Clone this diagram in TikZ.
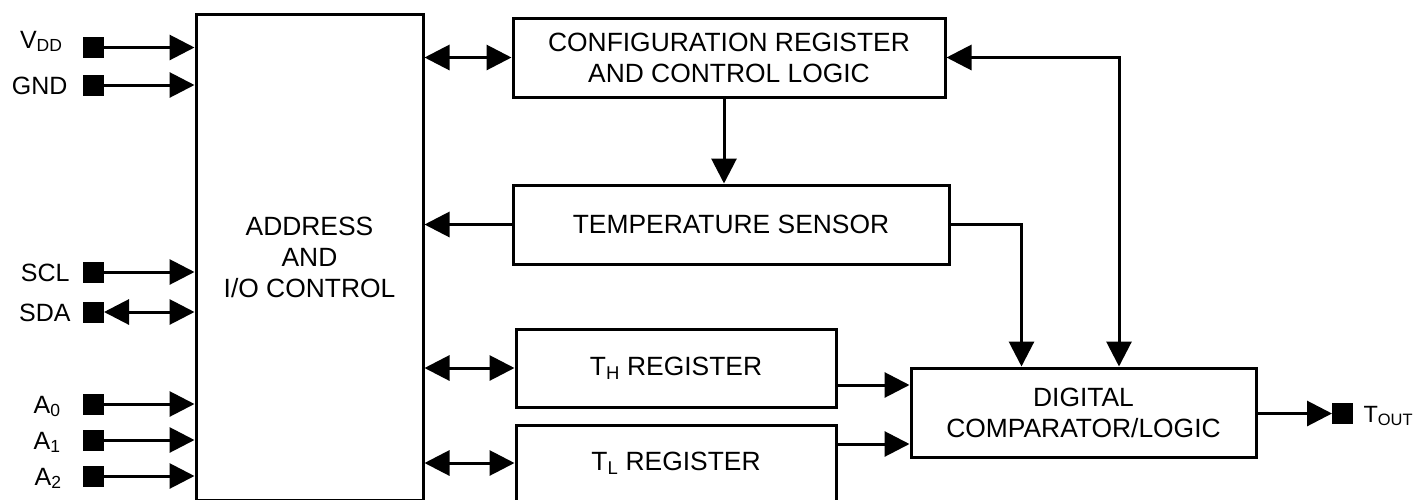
\documentclass[tikz,border=0pt]{standalone}
\usepackage{fontspec}
\setmainfont{Liberation Sans}
\usetikzlibrary{arrows.meta}
\begin{document}
\begin{tikzpicture}[x=1pt, y=-1pt, line width=3pt,
        font=\fontsize{26.4}{31}\selectfont,
        block/.style = {draw, align=center, inner sep=0pt},
        pin/.style = {fill, minimum size=21pt, inner sep=0pt, outer sep=0pt},
        pinlabel/.style = {font=\fontsize{25}{30}\selectfont, inner sep=0pt},
        arrow/.style = {-{Triangle[length=25pt,width=25pt]}},
        twoway/.style = {{Triangle[length=25pt,width=25pt]}-{Triangle[length=25pt,width=25pt]}}]
                \useasboundingbox (0,0) rectangle (1417,499);
                \clip (0,0) rectangle (1417,499);

                \node[block, minimum width=227pt, minimum height=486pt] 
                    (addr) at (309.5,257) {ADDRESS\\AND\\I/O CONTROL};
                \node[block, minimum width=432pt, minimum height=79pt] 
                    (cfg) at (729,57.5) {CONFIGURATION REGISTER\\AND CONTROL LOGIC};
                \node[block, minimum width=436pt, minimum height=79pt] 
                    (temp) at (731,224.5) {TEMPERATURE SENSOR};
                \node[block, minimum width=320pt, minimum height=78pt] 
                    (th) at (676,368) {T\textsubscript{H} REGISTER};
                \node[block, minimum width=320pt, minimum height=76pt] 
                    (tl) at (676,463) {T\textsubscript{L} REGISTER};
                \node[block, minimum width=345pt, minimum height=89pt] 
                    (dig) at (1083.5,412.5) {DIGITAL\\COMPARATOR/LOGIC};

                \node[pin] (vdd) at (93.5,47.5) {};
                \node[pin] (gnd) at (93.5,85) {};
                \node[pin] (scl) at (93.5,272) {};
                \node[pin] (sda) at (93.5,312) {};
                \node[pin] (a0) at (93.5,404) {};
                \node[pin] (a1) at (93.5,440) {};
                \node[pin] (a2) at (93.5,476) {};
                \node[pin] (tout) at (1342.5,413.5) {};

                \node[pinlabel, anchor=base east] (vddlabel) at (64,48) {V\textsubscript{DD}};
                \node[pinlabel, anchor=base east] (gndlabel) at (69,94) {GND};
                \node[pinlabel, anchor=base east] (scllabel) at (71,281) {SCL};
                \node[pinlabel, anchor=base east] (sdalabel) at (72,321) {SDA};
                \node[pinlabel, anchor=base east] (a0label) at (62,413) {A\textsubscript{0}};
                \node[pinlabel, anchor=base east] (a1label) at (62,449) {A\textsubscript{1}};
                \node[pinlabel, anchor=base east] (a2label) at (63,485) {A\textsubscript{2}};
                \node[pinlabel, font=\fontsize{23.5}{28}\selectfont, anchor=base west] 
                    (toutlabel) at (1362,422) {T\textsubscript{OUT}};

                \draw[arrow] (vdd) -- (vdd -| addr.west);
                \draw[arrow] (gnd) -- (gnd -| addr.west);
                \draw[arrow] (scl) -- (scl -| addr.west);
                \draw[twoway] (sda) -- (sda -| addr.west);
                \draw[arrow] (a0) -- (a0 -| addr.west);
                \draw[arrow] (a1) -- (a1 -| addr.west);
                \draw[arrow] (a2) -- (a2 -| addr.west);

                \draw[twoway] (cfg.west -| addr.east) -- (cfg.west);
                \draw[arrow] ([xshift=-5pt]cfg.south) -- ([xshift=-5pt]cfg.south |- temp.north);
                \draw[arrow] (temp.west) -- (temp.west -| addr.east);
                \draw[twoway] (th.west -| addr.east) -- (th.west);
                \draw[twoway] (tl.west -| addr.east) -- (tl.west);

                \draw[arrow] ([yshift=-17pt]th.east) -- ([yshift=-17pt]th.east -| dig.west);
                \draw[arrow] ([yshift=19pt]tl.east) -- ([yshift=19pt]tl.east -| dig.west);
                \draw[arrow] (temp.east) -| ([xshift=-62pt]dig.north);
                \draw[twoway] (cfg.east) -| ([xshift=35.5pt]dig.north);
                \draw[arrow] (dig.east |- tout) -- (tout);
            \end{tikzpicture}
\end{document}
